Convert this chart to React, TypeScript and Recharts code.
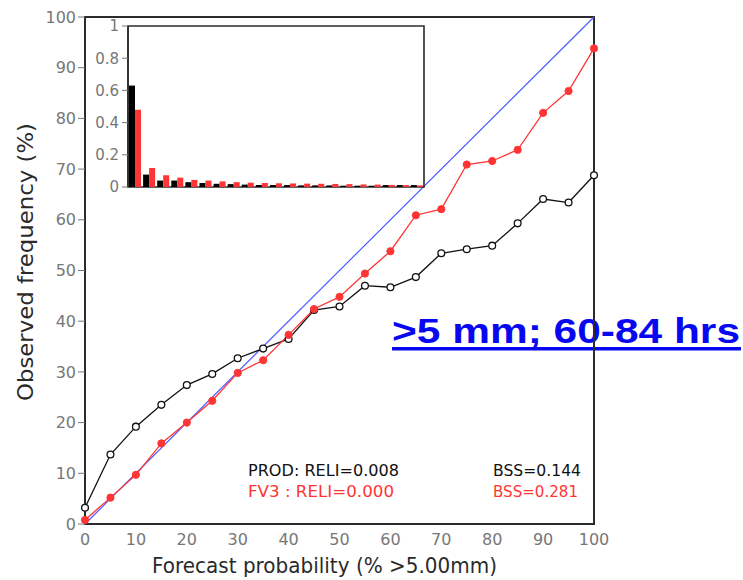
import React from 'react';
import { LineChart, Line, XAxis, YAxis, ReferenceLine, ReferenceArea, BarChart, Bar } from 'recharts';

const probabilities = [0, 5, 10, 15, 20, 25, 30, 35, 40, 45, 50, 55, 60, 65, 70, 75, 80, 85, 90, 95, 100];
const prodObserved = [3.2, 13.7, 19.2, 23.5, 27.4, 29.6, 32.7, 34.6, 36.5, 42.2, 42.9, 47.0, 46.7, 48.7, 53.4, 54.2, 54.9, 59.3, 64.1, 63.4, 68.8];
const fv3Observed = [0.8, 5.2, 9.7, 15.9, 20.0, 24.3, 29.8, 32.3, 37.3, 42.4, 44.8, 49.4, 53.8, 60.9, 62.1, 70.9, 71.6, 73.8, 81.1, 85.4, 93.8];
const prodFreq = [0.63, 0.077, 0.04, 0.04, 0.03, 0.025, 0.02, 0.018, 0.015, 0.013, 0.012, 0.012, 0.01, 0.01, 0.01, 0.008, 0.008, 0.008, 0.012, 0.012, 0.012];
const fv3Freq = [0.48, 0.118, 0.073, 0.058, 0.044, 0.04, 0.035, 0.03, 0.027, 0.025, 0.023, 0.022, 0.021, 0.02, 0.019, 0.018, 0.016, 0.015, 0.013, 0.012, 0.01];
const xTicks = [0, 10, 20, 30, 40, 50, 60, 70, 80, 90, 100];
const yTicks = [0, 10, 20, 30, 40, 50, 60, 70, 80, 90, 100];
const insetTicks = [0, 0.2, 0.4, 0.6, 0.8, 1];

const mainData = probabilities.map((p, i) => ({ p, prod: prodObserved[i], fv3: fv3Observed[i] }));
const insetData = probabilities.map((p, i) => ({ p, prod: prodFreq[i], fv3: fv3Freq[i] }));

const FONT = 'DejaVu Sans, sans-serif';
const TICK_COLOR = '#777';
const FRAME = '#2b2b2b';
const RED = '#ff3535';
const BLUE_LINE = '#4d5cff';

const layer: React.CSSProperties = { position: 'absolute', left: 0, top: 0 };

export default function App() {
  return (
    <div style={{ position: 'absolute', left: 0, top: 0, width: 743, height: 580, background: '#fff' }}>
      <svg style={layer} width={743} height={580}>
        <text
          transform="translate(33,262) rotate(-90)"
          textAnchor="middle"
          fontFamily={FONT}
          fontSize={21}
          fill="#2a2a2a"
          textLength={278}
          lengthAdjust="spacingAndGlyphs"
        >
          Observed frequency (%)
        </text>
        <text x={152} y={573} fontFamily={FONT} fontSize={21} fill="#2a2a2a" textLength={345} lengthAdjust="spacingAndGlyphs">
          Forecast probability (% &gt;5.00mm)
        </text>
        <text x={248} y={476} fontFamily={FONT} fontSize={15} fill="#111" textLength={151} lengthAdjust="spacingAndGlyphs">
          PROD:  RELI=0.008
        </text>
        <text x={493} y={476} fontFamily={FONT} fontSize={15} fill="#111" textLength={88} lengthAdjust="spacingAndGlyphs">
          BSS=0.144
        </text>
        <text x={248} y={497} fontFamily={FONT} fontSize={15} fill={RED} textLength={146} lengthAdjust="spacingAndGlyphs">
          FV3  :  RELI=0.000
        </text>
        <text x={493} y={497} fontFamily={FONT} fontSize={15} fill={RED} textLength={85} lengthAdjust="spacingAndGlyphs">
          BSS=0.281
        </text>
        <text
          x={392}
          y={343}
          fontFamily="Liberation Sans, Arial, sans-serif"
          fontWeight="bold"
          fontSize={35}
          fill="#0808f0"
          textLength={348}
          lengthAdjust="spacingAndGlyphs"
        >
          &gt;5 mm; 60-84 hrs
        </text>
        <rect x={392} y={347} width={349} height={3.5} fill="#0808f0" />
      </svg>

      <div style={layer}>
        <LineChart width={743} height={580} data={mainData} margin={{ top: 17, right: 149, bottom: 26, left: 25 }}>
          <XAxis
            dataKey="p"
            type="number"
            domain={[0, 100]}
            ticks={xTicks}
            height={30}
            axisLine={false}
            tickLine={false}
            tickSize={0}
            tickMargin={10}
            tick={{ fill: TICK_COLOR, fontSize: 16, fontFamily: FONT }}
          />
          <YAxis
            type="number"
            domain={[0, 100]}
            ticks={yTicks}
            width={60}
            axisLine={false}
            tickLine={{ stroke: TICK_COLOR }}
            tickSize={7}
            tickMargin={2}
            tick={{ fill: TICK_COLOR, fontSize: 16, fontFamily: FONT }}
          />
          <ReferenceArea x1={0} x2={100} y1={0} y2={100} fill="none" fillOpacity={0} stroke={FRAME} strokeWidth={2} />
          <ReferenceLine
            segment={[
              { x: 0, y: 0 },
              { x: 100, y: 100 },
            ]}
            stroke={BLUE_LINE}
            strokeWidth={1.2}
          />
          <Line
            type="linear"
            dataKey="prod"
            stroke="#111"
            strokeWidth={1.3}
            dot={{ r: 3.4, fill: '#fff', stroke: '#111', strokeWidth: 1.3 }}
            isAnimationActive={false}
          />
          <Line
            type="linear"
            dataKey="fv3"
            stroke={RED}
            strokeWidth={1.3}
            dot={{ r: 3.6, fill: RED, stroke: RED, strokeWidth: 1 }}
            isAnimationActive={false}
          />
        </LineChart>
      </div>

      <div style={layer}>
        <BarChart
          width={743}
          height={580}
          data={insetData}
          margin={{ top: 26, right: 319, bottom: 393, left: 88 }}
          barGap={0}
          barCategoryGap={1}
        >
          <XAxis dataKey="p" height={0} tick={false} tickLine={false} axisLine={{ stroke: FRAME, strokeWidth: 1.6 }} />
          <YAxis
            type="number"
            domain={[0, 1]}
            ticks={insetTicks}
            width={40}
            axisLine={{ stroke: FRAME, strokeWidth: 1.6 }}
            tickLine={{ stroke: TICK_COLOR }}
            tickSize={6}
            tickMargin={3}
            tick={{ fill: TICK_COLOR, fontSize: 15, fontFamily: FONT }}
          />
          <ReferenceArea x1={0} x2={100} y1={0} y2={1} fill="none" fillOpacity={0} stroke={FRAME} strokeWidth={1.6} ifOverflow="visible" />
          <Bar dataKey="prod" fill="#000" isAnimationActive={false} />
          <Bar dataKey="fv3" fill={RED} isAnimationActive={false} />
        </BarChart>
      </div>
    </div>
  );
}
